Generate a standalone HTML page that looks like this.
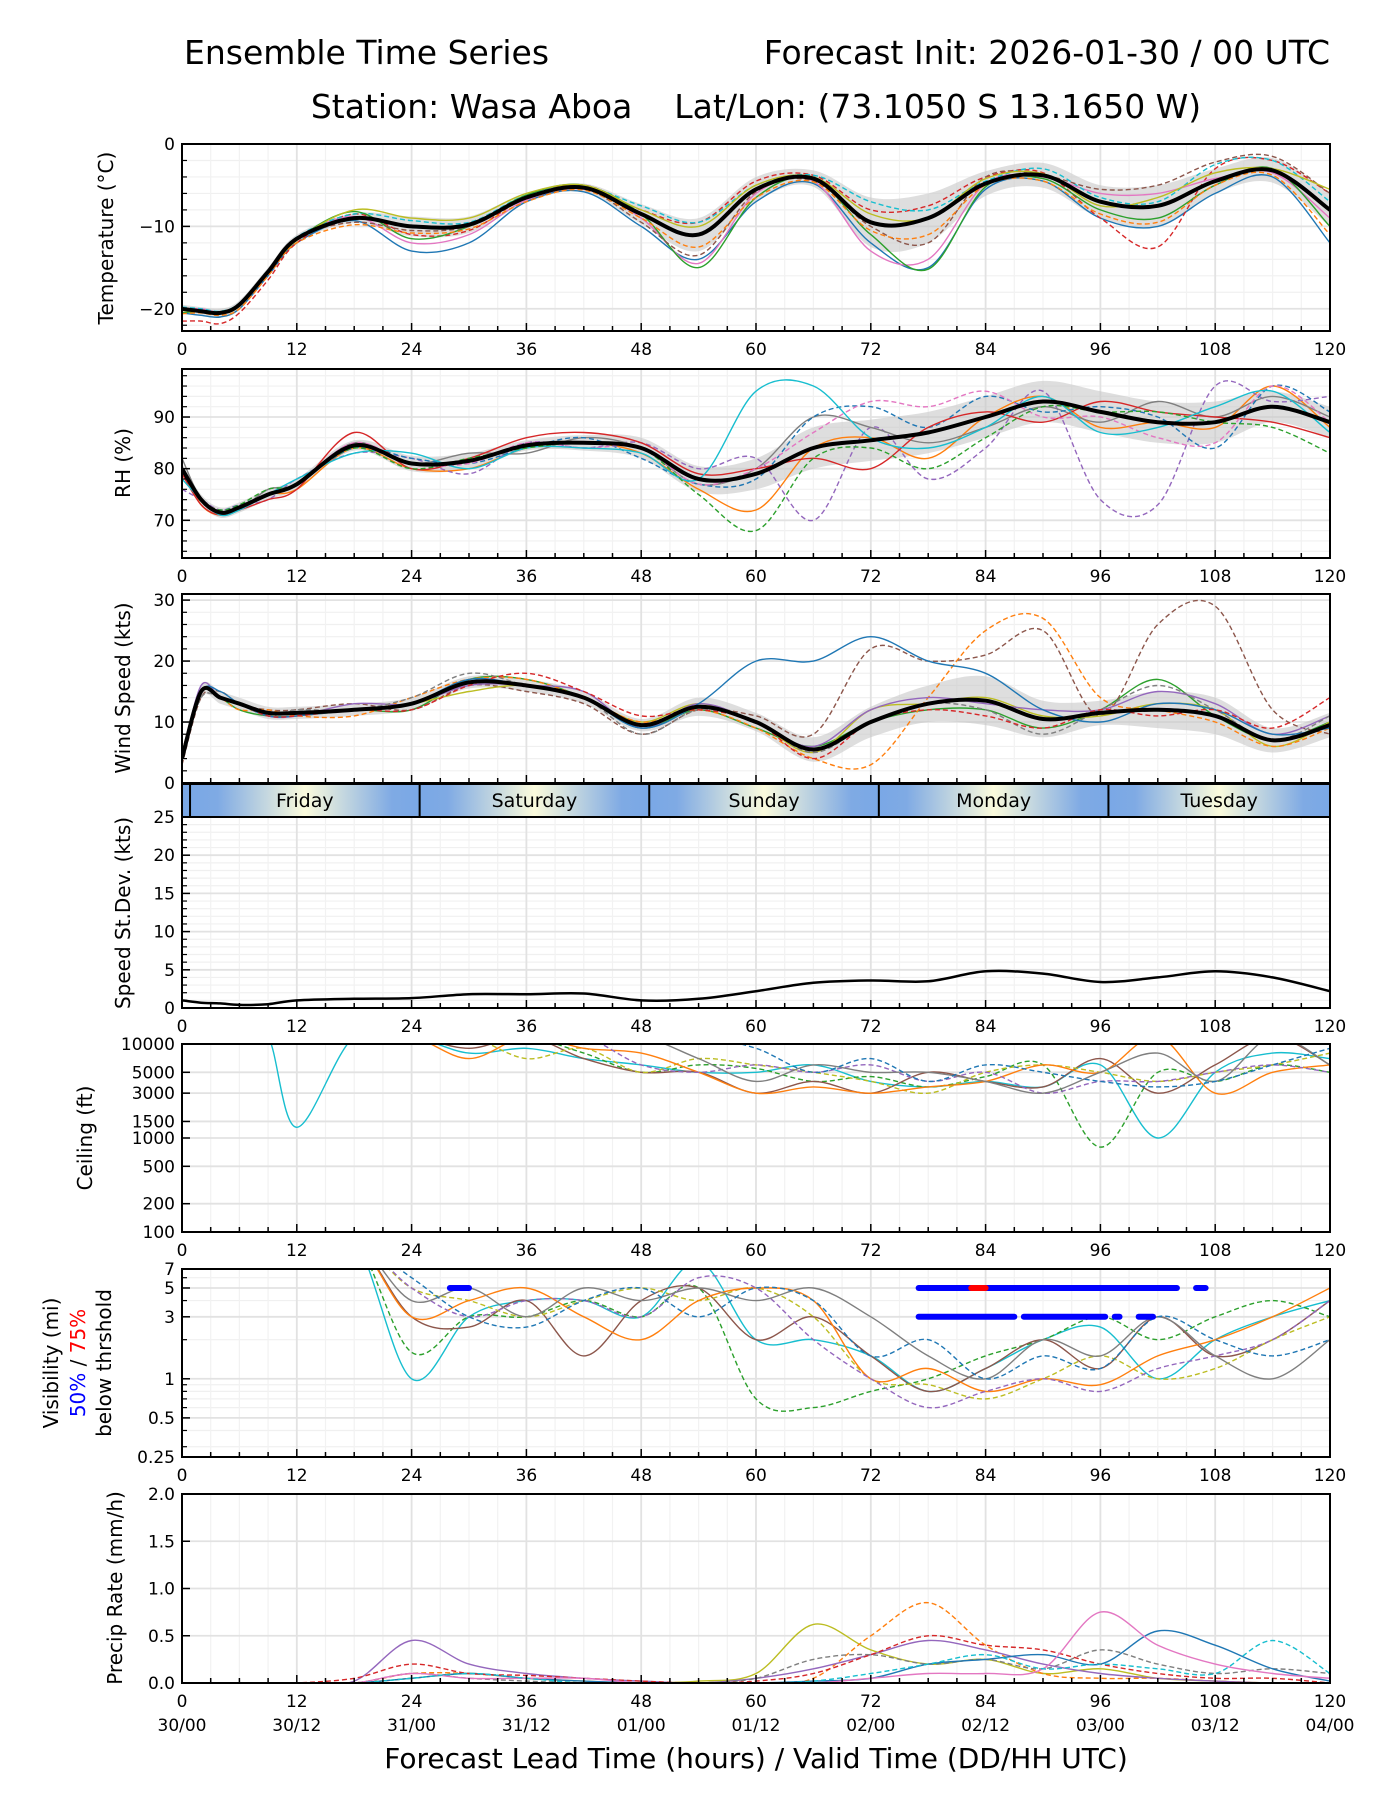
<!DOCTYPE html>
<html><head><meta charset="utf-8"><style>
html,body{margin:0;padding:0;background:#fff;}
svg{display:block;font-family:"DejaVu Sans","Liberation Sans",sans-serif;}
</style></head><body>
<svg id="fig" width="1400" height="1800" viewBox="0 0 1400 1800" xmlns="http://www.w3.org/2000/svg">
<defs>
<linearGradient id="dayg" x1="0" y1="0" x2="1" y2="0">
<stop offset="0" stop-color="#7aa8e6"/><stop offset="0.12" stop-color="#7faae4"/><stop offset="0.5" stop-color="#fbfbdc"/><stop offset="0.88" stop-color="#7faae4"/><stop offset="1" stop-color="#7aa8e6"/>
</linearGradient>
</defs>
<text x="184" y="64" font-size="33">Ensemble Time Series</text>
<text x="1330" y="64" font-size="33" text-anchor="end">Forecast Init: 2026-01-30 / 00 UTC</text>
<text x="756" y="118" font-size="33" text-anchor="middle" xml:space="preserve">Station: Wasa Aboa    Lat/Lon: (73.1050 S 13.1650 W)</text>
<text transform="translate(113,238) rotate(-90)" font-size="20" text-anchor="middle">Temperature (°C)</text>
<text transform="translate(130,463) rotate(-90)" font-size="20" text-anchor="middle">RH (%)</text>
<text transform="translate(130,688) rotate(-90)" font-size="20" text-anchor="middle">Wind Speed (kts)</text>
<text transform="translate(130,913) rotate(-90)" font-size="20" text-anchor="middle">Speed St.Dev. (kts)</text>
<text transform="translate(92,1138) rotate(-90)" font-size="20" text-anchor="middle">Ceiling (ft)</text>
<text transform="translate(58,1363) rotate(-90)" font-size="20" text-anchor="middle">Visibility (mi)</text>
<text transform="translate(85,1363) rotate(-90)" font-size="20" text-anchor="middle"><tspan fill="#0000ff">50%</tspan> / <tspan fill="#ff0000">75%</tspan></text>
<text transform="translate(111,1363) rotate(-90)" font-size="20" text-anchor="middle">below thrshold</text>
<text transform="translate(122,1588) rotate(-90)" font-size="20" text-anchor="middle">Precip Rate (mm/h)</text>
<text x="756" y="1768" font-size="28" text-anchor="middle">Forecast Lead Time (hours) / Valid Time (DD/HH UTC)</text>
</svg>
<script>
// ---- shared data ----
const hours = [0,2,4,6,9,12,18,24,30,36,42,48,54,60,66,72,78,84,90,96,102,108,114,120];
const xTicks = [0,12,24,36,48,60,72,84,96,108,120];
const dateLabels = ["30/00","30/12","31/00","31/12","01/00","01/12","02/00","02/12","03/00","03/12","04/00"];
const dayNames = ["Friday","Saturday","Sunday","Monday","Tuesday"];
const dayStarts = [0.84,24.84,48.84,72.84,96.84];
const colors = ["#1f77b4","#ff7f0e","#2ca02c","#d62728","#9467bd","#8c564b","#e377c2","#7f7f7f","#bcbd22","#17becf"];

// Temperature
const tempMean = [-20,-20.3,-20.5,-19.5,-15.5,-11.5,-9,-10,-9.8,-6.5,-5.3,-8.5,-11,-5.5,-4.2,-9.5,-9,-4.8,-3.8,-7,-7.5,-4.5,-3.2,-8];
const tempSpread = [0.5,0.5,0.5,0.5,0.5,0.5,0.6,1.2,1,0.6,0.5,1.2,2,1.5,1,3,3,1.5,1.5,2,2.5,1.5,1.5,2];
const tempM1 = [-20.5,-20.8,-21,-20,-16,-12,-9.3,-13,-12,-7,-5.8,-10,-14,-7,-4.8,-12,-15,-5.5,-4.5,-9,-10,-6,-4,-12];
const tempM2 = [-21.5,-21.5,-21.8,-20.5,-16.5,-12,-8.5,-11,-10.5,-6.5,-5,-8,-9.5,-4.5,-3.8,-8,-7.5,-4,-3.5,-9,-12.5,-3,-2,-6];
const tempM3 = [-20,-20,-20.4,-19.5,-15.5,-11.5,-8.8,-12,-11,-6.8,-5.5,-9,-14.5,-6,-4.5,-13,-14,-4.8,-4,-6,-6,-4.2,-3.5,-9];
const tempM4 = [-19.8,-20,-20.3,-19.3,-15.3,-11.3,-8.5,-9.3,-9.5,-6.2,-5.2,-7.5,-9.5,-5,-3.8,-7,-8,-4.5,-3,-6.5,-7,-2.5,-2,-7];
const tempM5 = [-20.5,-20.3,-20.6,-19.6,-15.6,-11.6,-8.2,-11.5,-10,-6.2,-5,-8.5,-15,-6.5,-4.2,-11,-15.2,-5.2,-4.2,-8,-9,-5,-3,-10];
const tempM6 = [-20,-20.2,-20.5,-19.5,-15.5,-11.4,-9.5,-10.5,-10,-6.6,-5.4,-9.5,-13.5,-5.8,-4.5,-10,-12,-4,-3.8,-5.5,-5,-2.2,-1.5,-6];
const tempM7 = [-20.2,-20.4,-20.6,-19.7,-15.7,-11.7,-8,-9,-9,-6,-5,-8,-10,-5,-4,-8.5,-9,-4.2,-3.6,-7.5,-6.5,-3.5,-3,-5.5];
const tempM8 = [-20.6,-20.5,-20.8,-20,-16,-12,-9.8,-10.8,-10.3,-7,-5.6,-9,-12.5,-6.5,-4.6,-10.5,-11,-5,-4.5,-8.5,-9.5,-5,-3.8,-11];
const tempTicks = [0,-10,-20];

// RH
const rhMean = [80,74,71.5,72.5,75,77,84.5,81,81.5,84.5,85,84,78,79,84,85.5,87,90,93,91,89,89,92,89];
const rhSpread = [1,1,1,1,1,1,1,1.5,1.5,1,1.5,2,2.5,3,4,4,4,4,4,4,4,4,3,3];
const rhM1 = [80,73,71,72,75,76,84,80,80,84,85,83,76,72,84,86,82,90,94,88,89,88,96,88];
const rhM2 = [76,74,72,73,74,78,83,82,79,85,84,85,80,82,70,88,78,84,95,74,73,96,93,94];
const rhM3 = [82,74,71.5,72,76,77,85,81,83,83,86,84,77,80,90,88,85,88,92,89,93,90,94,90];
const rhM4 = [80,74,72,73,75,77,84,82,81,84,86,82,77,78,90,92,88,94,91,92,90,84,96,91];
const rhM5 = [79,73,71,72,74,76,87,80,82,86,87,85,79,80,82,80,88,91,89,93,91,90,89,86];
const rhM6 = [80,74,72,72,75,77,85,81,81,85,84,84,77,80,87,93,92,95,90,90,86,85,96,89];
const rhM7 = [78,74,71,72,75,78,83,83,80,84,84,83,78,95,96,86,84,88,94,87,88,92,95,87];
const rhM8 = [80,74,72,73,76,77,84,80,82,84,85,84,75,68,82,84,80,86,92,91,91,89,88,83];
const rhTicks = [70,80,90];

// Wind
const windMean = [4,15,14,13,11.5,11.5,12,13,16.5,16,14,9.5,12.5,10,5.5,10,13,13.5,10.5,11.5,12,11,7,9.5];
const windSpread = [1,1,1,1,1,1,1,1,1,1,1,1,1.5,1.5,2,2.5,3,4,3,2,3,3,2,2];
const windM1 = [4,15,14,12,11,11,12,12,17,17,14,9,12,9,6,10,12,12,9,12,17,11,7,10];
const windM2 = [3,14,15,13,12,12,13,12,16,15,13,8,12,11,8,22,20,21,25,11,26,29,12,8];
const windM3 = [5,15,14,13,11,11,12,13,15,16,14,10,13,10,5,12,13,14,11,11,13,12,6,10];
const windM4 = [4,15,14,12,12,11,11,14,17,17,14,10,12,9,4,3,14,25,27,14,12,10,6,9];
const windM5 = [4,16,14,13,11,11,13,13,16,16,15,9,13,10,6,12,14,13,12,12,15,13,8,11];
const windM6 = [4,14,14,13,11,12,12,14,18,16,14,8,12,10,5,10,13,12,8,12,16,12,7,11];
const windM7 = [4,15,15,13,11,11,12,13,17,16,14,9,13,20,20,24,20,18,12,10,13,12,8,9];
const windM8 = [5,15,14,13,11,11,12,12,16,18,15,11,12,10,4,10,12,11,9,12,11,12,9,14];
const windTicks = [0,10,20,30];

// Std dev
const sdValues = [1,0.7,0.6,0.4,0.5,1,1.2,1.3,1.8,1.8,1.9,1,1.2,2.2,3.3,3.6,3.5,4.8,4.5,3.4,4,4.8,4,2.2];
const sdTicks = [0,5,10,15,20,25];

// Ceiling (12000 = above plot)
const ceilM1 = [12000,12000,12000,12000,12000,1300,12000,12000,8000,9000,7000,6000,5000,5000,6000,4000,3500,4000,3500,6000,1000,5000,8000,7000];
const ceilM2 = [12000,12000,12000,12000,12000,12000,12000,12000,12000,12000,8000,5000,6000,5500,4000,4500,3500,4500,6000,800,5000,4000,6000,5000];
const ceilM3 = [12000,12000,12000,12000,12000,12000,12000,12000,9000,12000,7000,5000,5000,3000,4000,3000,5000,4000,3500,7000,3000,6000,12000,6000];
const ceilM4 = [12000,12000,12000,12000,12000,12000,12000,12000,12000,7000,9000,5000,7000,6000,5000,4000,3000,5000,6000,5000,4000,5000,6000,8000];
const ceilM5 = [12000,12000,12000,12000,12000,12000,12000,12000,7000,12000,9000,8000,5000,3000,3500,3000,3500,4000,6000,5000,12000,3000,5000,6000];
const ceilM6 = [12000,12000,12000,12000,12000,12000,12000,12000,12000,12000,12000,6000,5000,6000,5000,6000,4000,5000,3000,4000,4000,5000,6000,5000];
const ceilM7 = [12000,12000,12000,12000,12000,12000,12000,12000,12000,12000,12000,12000,7000,4000,6000,5000,5000,4000,3000,5000,8000,4000,12000,6000];
const ceilM8 = [12000,12000,12000,12000,12000,12000,12000,12000,12000,12000,12000,12000,12000,9000,5000,7000,4000,6000,5000,4000,3500,4000,6000,9000];
const ceilTicks = [100,200,500,1000,1500,3000,5000,10000];

// Visibility (12 = above plot)
const visM1 = [12,12,12,12,12,12,12,1.0,3,4,4,3,8,2,2,1.5,0.8,1.2,2,2.5,1,2,3,4];
const visM2 = [12,12,12,12,12,12,12,1.6,3,3,4,3,5,0.7,0.6,0.8,1,1.5,2,3,2,3,4,3];
const visM3 = [12,12,12,12,12,12,12,3,2.5,4,1.5,4,5,2,3,1.5,0.8,1.2,2,1.2,3,1.5,2,4];
const visM4 = [12,12,12,12,12,12,12,5,4,3,4,5,4,5,3,1,0.9,0.7,1,1.5,1,1.2,2,3];
const visM5 = [12,12,12,12,12,12,12,3,4,5,3,2,4,5,4,1,1.2,0.8,1,0.9,1.5,2,3,5];
const visM6 = [12,12,12,12,12,12,12,5,3,4,4,3,6,5,2,1,0.6,0.8,1,0.8,1.2,1.5,2,4];
const visM7 = [12,12,12,12,12,12,12,4,5,3,5,4,5,4,5,3,1.5,1,2,1.5,3,1.5,1,2];
const visM8 = [12,12,12,12,12,12,12,6,3,2.5,4,5,3,5,4,1.5,2,1,1.5,1.2,3,2,1.5,2];
const visTicks = [0.25,0.5,1,3,5,7];
const vis50At5 = [[28,30],[77,104],[106,107]];
const vis50At3 = [[77,87],[88,96.5],[97.5,98],[100,101.5]];
const vis75At5 = [[82.5,84]];

// Precip
const prM1 = [0,0,0,0,0,0,0,0.05,0.1,0.05,0.02,0,0.02,0.1,0.62,0.35,0.2,0.25,0.1,0.15,0.05,0.02,0,0];
const prM2 = [0,0,0,0,0,0,0,0.1,0.1,0.05,0,0,0,0,0.05,0.5,0.85,0.4,0.1,0.05,0.05,0.02,0,0];
const prM3 = [0,0,0,0,0,0,0.02,0.45,0.2,0.1,0.05,0.02,0,0.05,0.15,0.3,0.45,0.35,0.2,0.1,0.05,0.02,0,0];
const prM4 = [0,0,0,0,0,0,0,0.1,0.05,0.02,0,0,0,0.05,0.25,0.3,0.2,0.25,0.15,0.35,0.2,0.1,0.15,0.1];
const prM5 = [0,0,0,0,0,0,0,0.05,0.1,0.05,0.02,0,0,0,0.02,0.05,0.2,0.25,0.3,0.2,0.55,0.4,0.15,0.02];
const prM6 = [0,0,0,0,0,0,0.05,0.2,0.1,0.08,0.05,0.02,0,0.02,0.1,0.3,0.5,0.4,0.35,0.2,0.1,0.05,0.05,0];
const prM7 = [0,0,0,0,0,0,0,0.1,0.05,0.05,0.05,0,0,0,0,0.05,0.1,0.1,0.15,0.75,0.4,0.2,0.1,0.05];
const prM8 = [0,0,0,0,0,0,0,0.05,0.1,0.05,0,0,0,0,0.02,0.1,0.2,0.3,0.15,0.2,0.15,0.1,0.45,0.1];
const prTicks = [0,0.5,1.0,1.5,2.0];

// ---- drawing ----
const NS = "http://www.w3.org/2000/svg";
const svg = document.getElementById("fig");
const X0 = 182, X1 = 1330;
const xs = h => X0 + (h/120)*(X1-X0);
function mk(tag, attrs, parent){
  const e = document.createElementNS(NS, tag);
  for (const k in attrs) e.setAttribute(k, attrs[k]);
  (parent||svg).appendChild(e);
  return e;
}
function smooth(pts){
  let d = "M"+pts[0][0].toFixed(1)+","+pts[0][1].toFixed(1);
  for (let i=0;i<pts.length-1;i++){
    const p0=pts[Math.max(0,i-1)], p1=pts[i], p2=pts[i+1], p3=pts[Math.min(pts.length-1,i+2)];
    const c1x=p1[0]+(p2[0]-p0[0])/6, c1y=p1[1]+(p2[1]-p0[1])/6;
    const c2x=p2[0]-(p3[0]-p1[0])/6, c2y=p2[1]-(p3[1]-p1[1])/6;
    d += " C"+c1x.toFixed(1)+","+c1y.toFixed(1)+" "+c2x.toFixed(1)+","+c2y.toFixed(1)+" "+p2[0].toFixed(1)+","+p2[1].toFixed(1);
  }
  return d;
}
function panel(cfg){
  const g = mk("g", {});
  
  
  const cid = "clip-"+cfg.name;
  const cp = mk("clipPath", {id:cid}, g);
  mk("rect", {x:X0, y:cfg.top, width:X1-X0, height:cfg.bot-cfg.top}, cp);
  const ys = cfg.ys;
  (cfg.minorY||[]).forEach(v => mk("line",{x1:X0,x2:X1,y1:ys(v),y2:ys(v),stroke:"#f0f0f0","stroke-width":1.2},g));
  for (let h=3; h<120; h+=3){ if (h%12) mk("line",{x1:xs(h),x2:xs(h),y1:cfg.top,y2:cfg.bot,stroke:"#f2f2f2","stroke-width":1.2},g); }
  cfg.ticks.forEach(v => mk("line",{x1:X0,x2:X1,y1:ys(v),y2:ys(v),stroke:"#e2e2e2","stroke-width":1.8},g));
  xTicks.forEach(h => mk("line",{x1:xs(h),x2:xs(h),y1:cfg.top,y2:cfg.bot,stroke:"#e2e2e2","stroke-width":1.8},g));
  const data = mk("g", {"clip-path":"url(#"+cid+")"}, g);
  if (cfg.mean && cfg.spread){
    const up = hours.map((h,i)=>[xs(h), ys(cfg.mean[i]+cfg.spread[i])]);
    const lo = hours.map((h,i)=>[xs(h), ys(cfg.mean[i]-cfg.spread[i])]).reverse();
    const band = mk("path",{d: smooth(up)+" L"+smooth(lo).slice(1)+" Z", fill:"#c8c8c8", opacity:0.6}, data);
    
    
  }
  (cfg.members||[]).forEach((m,k) => {
    const p = mk("path",{d: smooth(hours.map((h,i)=>[xs(h), ys(m[i])])), fill:"none", stroke: colors[(k*3+ (cfg.cshift||0))%10], "stroke-width":1.4, "stroke-dasharray": k%2 ? "5,3" : "none"}, data);
    
    
  });
  if (cfg.mean){
    const p = mk("path",{d: smooth(hours.map((h,i)=>[xs(h), ys(cfg.mean[i])])), fill:"none", stroke:"#000", "stroke-width": cfg.meanW||4}, data);
    
    
  }
  if (cfg.extra) cfg.extra(data);
  mk("rect",{x:X0,y:cfg.top,width:X1-X0,height:cfg.bot-cfg.top,fill:"none",stroke:"#000","stroke-width":2},g);
  for (let h=0; h<=120; h+=3){ const maj = h%12===0; mk("line",{x1:xs(h),x2:xs(h),y1:cfg.bot,y2:cfg.bot-(maj?8:5),stroke:"#000","stroke-width":1.5},g); }
  cfg.ticks.forEach(v => {
    mk("line",{x1:X0,x2:X0+8,y1:ys(v),y2:ys(v),stroke:"#000","stroke-width":1.5},g);
    const t = mk("text",{x:X0-7,y:ys(v)+6,"font-size":17,"text-anchor":"end"},g);
    t.textContent = cfg.fmt ? cfg.fmt(v) : String(v).replace("-","\u2212");
    
    
  });
  (cfg.minorY||[]).forEach(v => mk("line",{x1:X0,x2:X0+5,y1:ys(v),y2:ys(v),stroke:"#000","stroke-width":1.2},g));
  if (cfg.xlabels){
    xTicks.forEach((h,i) => {
      const t = mk("text",{x:xs(h),y:cfg.bot+24,"font-size":17,"text-anchor":"middle"},g);
      t.textContent = h;
      
      
      if (cfg.dates){
        const d = mk("text",{x:xs(h),y:cfg.bot+48,"font-size":17,"text-anchor":"middle"},g);
        d.textContent = dateLabels[i];
        
        
      }
    });
  }
}
function lin(top,bot,vmin,vmax){ return v => bot - (v-vmin)/(vmax-vmin)*(bot-top); }
function logs(top,bot,vmin,vmax){ const a=Math.log10(vmin), b=Math.log10(vmax); return v => bot - (Math.log10(v)-a)/(b-a)*(bot-top); }
function range(a,b,s){ const r=[]; for(let v=a; v<=b+1e-9; v+=s) r.push(+v.toFixed(3)); return r; }

panel({name:"temperature", top:144, bot:331, ys:lin(144,331,-22.7,0), ticks:tempTicks, minorY:range(-22,-2,2).filter(v=>v%10), mean:tempMean, spread:tempSpread, members:[tempM1,tempM2,tempM3,tempM4,tempM5,tempM6,tempM7,tempM8], xlabels:true});
panel({name:"rh", top:369, bot:558, ys:lin(369,558,62.7,99.3), ticks:rhTicks, minorY:range(64,98,2).filter(v=>v%10), mean:rhMean, spread:rhSpread, members:[rhM1,rhM2,rhM3,rhM4,rhM5,rhM6,rhM7,rhM8], cshift:1, xlabels:true});
panel({name:"wind", top:594, bot:783, ys:lin(594,783,0,31), ticks:windTicks, minorY:range(2,30,2).filter(v=>v%10), mean:windMean, spread:windSpread, members:[windM1,windM2,windM3,windM4,windM5,windM6,windM7,windM8], cshift:2});
panel({name:"stdev", top:817, bot:1008, ys:lin(817,1008,0,25), ticks:sdTicks, minorY:range(1,24,1).filter(v=>v%5), mean:sdValues, meanW:2.5, xlabels:true});
panel({name:"ceiling", top:1044, bot:1232, ys:logs(1044,1232,100,10000), ticks:ceilTicks, minorY:[], members:[ceilM1,ceilM2,ceilM3,ceilM4,ceilM5,ceilM6,ceilM7,ceilM8], cshift:9, xlabels:true, fmt:v=>String(v)});
panel({name:"visibility", top:1269, bot:1457, ys:logs(1269,1457,0.25,7), ticks:visTicks, minorY:[0.3,0.4,0.6,0.7,0.8,0.9,2,4,6], members:[visM1,visM2,visM3,visM4,visM5,visM6,visM7,visM8], cshift:9, xlabels:true, fmt:v=>String(v),
  extra: g => {
    const ys = logs(1269,1457,0.25,7);
    [[vis50At5,5,"#0000ff"],[vis50At3,3,"#0000ff"],[vis75At5,5,"#ff0000"]].forEach(([segs,lvl,col]) => {
      segs.forEach(s => {
        const l = mk("line",{x1:xs(s[0]),x2:xs(s[1]),y1:ys(lvl),y2:ys(lvl),stroke:col,"stroke-width":6,"stroke-linecap":"round"},g);
        
        
      });
    });
  }});
panel({name:"precip", top:1494, bot:1683, ys:lin(1494,1683,0,2), ticks:prTicks, minorY:[], members:[prM1,prM2,prM3,prM4,prM5,prM6,prM7,prM8], cshift:8, xlabels:true, dates:true, fmt:v=>v.toFixed(1)});

// Day band
const bg = mk("g",{});


mk("rect",{x:X0,y:784,width:xs(dayStarts[0])-X0,height:33,fill:"#7aa8e6"},bg);
dayStarts.forEach((s,i) => {
  const e = Math.min(120, s+24);
  const r = mk("rect",{x:xs(s),y:784,width:xs(e)-xs(s),height:33,fill:"url(#dayg)"},bg);
  
  
  mk("line",{x1:xs(s),x2:xs(s),y1:784,y2:817,stroke:"#000","stroke-width":2},bg);
  const t = mk("text",{x:(xs(s)+xs(e))/2,y:807,"font-size":19,"text-anchor":"middle"},bg);
  t.textContent = dayNames[i];
  
  
});
mk("rect",{x:X0,y:784,width:X1-X0,height:33,fill:"none",stroke:"#000","stroke-width":2},bg);
</script>
</body></html>
